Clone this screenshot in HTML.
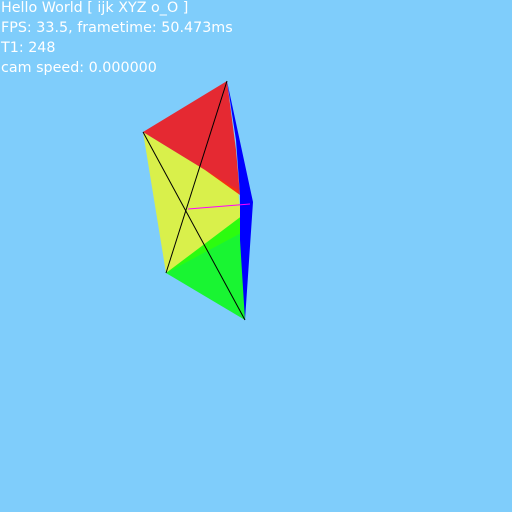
<!DOCTYPE html>
<html><head><style>
body{margin:0;width:512px;height:512px;background:#7fcdfb;overflow:hidden;position:relative;font-family:"DejaVu Sans","Liberation Sans",sans-serif}
.t{position:absolute;left:1px;color:#fff;font-size:14.3px;line-height:20px;white-space:pre}
</style></head><body>
<div class="t" style="top:-2px">Hello World [ ijk XYZ o_O ]</div>
<div class="t" style="top:18px">FPS: 33.5, frametime: 50.473ms</div>
<div class="t" style="top:38px">T1: 248</div>
<div class="t" style="top:58px">cam speed: 0.000000</div>
<svg width="512" height="512" style="position:absolute;left:0;top:0">
<polygon points="143,132 238,190 243,232 166,273" fill="#ffff00" opacity="0.7"/>
<polygon points="166,273 243,215 245,320" fill="#00ff00" opacity="0.8"/>
<polygon points="227,81 143,132 205,170 240,195 236,150" fill="#ff0000" opacity="0.8"/>
<polygon points="227,81 253,202 245,320 240,240 240,195 236,140" fill="#0000ff"/>
<line x1="143" y1="132" x2="245" y2="320" stroke="#000" stroke-width="1"/>
<line x1="227" y1="81" x2="166" y2="273" stroke="#000" stroke-width="1"/>
<line x1="188" y1="209" x2="250" y2="204" stroke="#f0f" stroke-width="1"/>
</svg>
</body></html>
